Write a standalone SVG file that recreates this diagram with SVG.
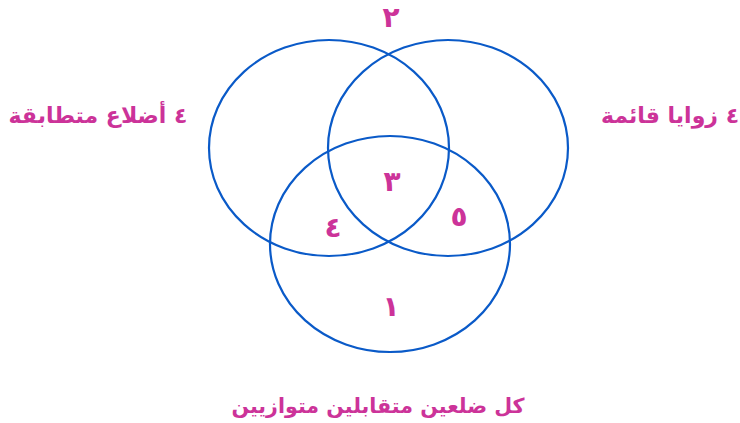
<svg xmlns="http://www.w3.org/2000/svg" width="740" height="423" viewBox="0 0 740 423">
<style>
.c{fill:none;stroke:#0a5ac8;stroke-width:2.2}
.t{fill:#cc3399;font-family:"DejaVu Sans",sans-serif;font-weight:bold;font-size:22px;text-anchor:middle;direction:rtl}
.n{fill:#cc3399;font-family:"DejaVu Sans",sans-serif;font-weight:bold;font-size:28px;text-anchor:middle}
</style>
<rect width="740" height="423" fill="#fff"/>
<g id="set-left"><ellipse class="c" cx="329" cy="148" rx="120" ry="108"/></g>
<g id="set-right"><ellipse class="c" cx="448" cy="148" rx="120" ry="108"/></g>
<g id="set-bottom"><ellipse class="c" cx="390" cy="244" rx="120" ry="108"/></g>
<g id="labels">
<text class="n" x="391" y="27">٢</text>
<text class="n" x="392" y="191">٣</text>
<text class="n" x="333" y="237">٤</text>
<text class="n" x="459" y="226">٥</text>
<text class="n" x="391" y="316">١</text>
<text class="t" x="98" y="123">٤ أضلاع متطابقة</text>
<text class="t" x="670" y="123">٤ زوايا قائمة</text>
<text class="t" x="378" y="413" style="font-size:20.6px">كل ضلعين متقابلين متوازيين</text>
</g>
</svg>
